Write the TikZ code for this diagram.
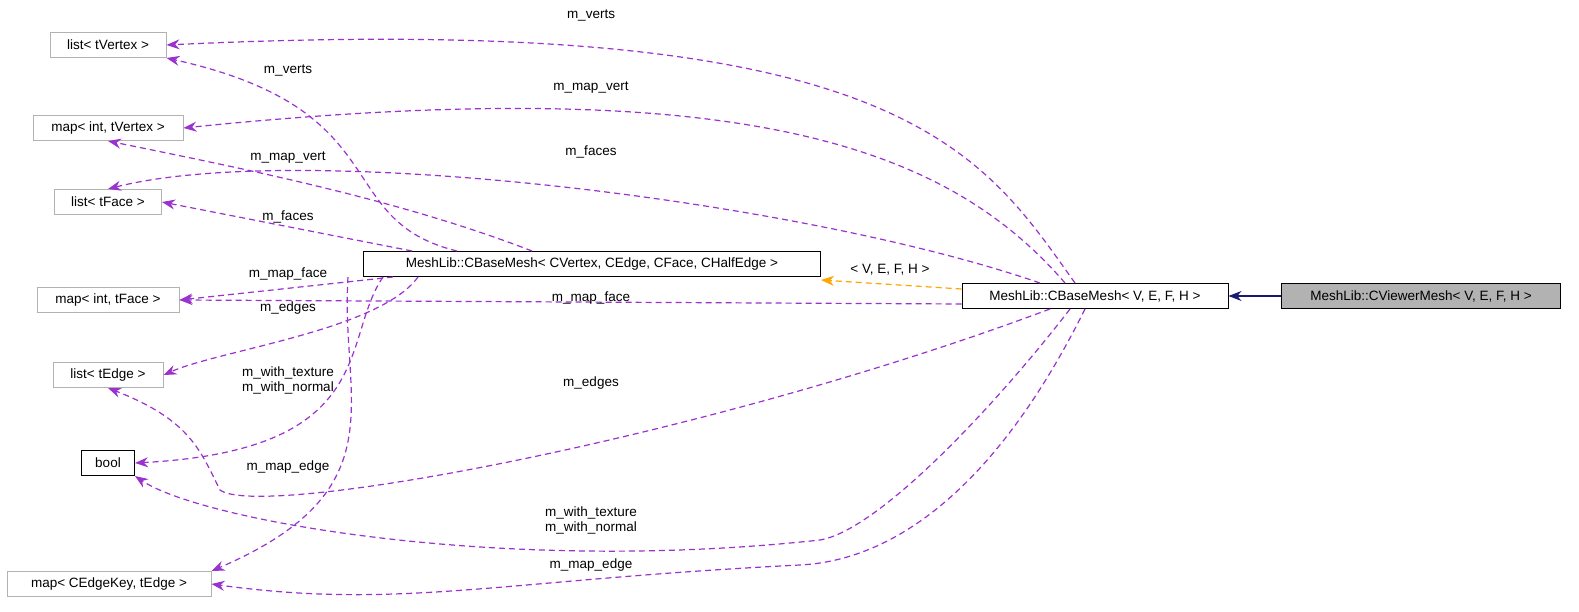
\documentclass[tikz,border=0pt]{standalone}
\usepackage{fontspec}
\setmainfont{Liberation Sans}
\usepackage{tikz}
\usetikzlibrary{arrows.meta}
\definecolor{edgepurple}{HTML}{9A32CD}
\definecolor{tmplorange}{HTML}{FFA500}
\definecolor{inhnavy}{HTML}{191970}
\tikzstyle{cls} = [rectangle, draw=black, fill=white, inner sep=0pt, minimum height=25pt, line width=1pt, font=\fontsize{13.5}{15}\selectfont]
\tikzstyle{extcls} = [cls, draw=gray!60]
\tikzstyle{usage} = [draw=edgepurple, dash pattern=on 6pt off 4pt, line width=1.2pt, -{Stealth[length=13pt,width=10pt]}]
\tikzstyle{tmpl} = [draw=tmplorange, dash pattern=on 6pt off 4pt, line width=1.2pt, -{Stealth[length=13pt,width=10pt]}]
\tikzstyle{inherit} = [draw=inhnavy, line width=1.2pt, -{Stealth[length=13pt,width=10pt]}]
\tikzstyle{lbl} = [font=\fontsize{13.5}{15}\selectfont, align=center, inner sep=1pt]
\begin{document}
\begin{tikzpicture}[x=1pt, y=-1pt]
			\useasboundingbox (0,0) rectangle (1579,612);
			% classes
			\node [extcls, minimum width=116pt] (listVert) at (108,45) {list< tVertex >};
			\node [extcls, minimum width=150pt] (mapVert) at (108,128) {map< int, tVertex >};
			\node [extcls, minimum width=107pt] (listFace) at (108,202) {list< tFace >};
			\node [extcls, minimum width=142pt] (mapFace) at (108,300) {map< int, tFace >};
			\node [extcls, minimum width=110pt] (listEdge) at (108,375) {list< tEdge >};
			\node [cls, minimum width=53pt] (bool) at (108,463) {bool};
			\node [extcls, minimum width=204pt] (mapEdge) at (109,584) {map< CEdgeKey, tEdge >};
			\node [cls, minimum width=457pt] (baseC) at (592,264) {MeshLib::CBaseMesh< CVertex, CEdge, CFace, CHalfEdge >};
			\node [cls, minimum width=266pt] (baseT) at (1095,296) {MeshLib::CBaseMesh< V, E, F, H >};
			\node [cls, minimum width=279pt, fill=gray!60] (viewer) at (1421,296) {MeshLib::CViewerMesh< V, E, F, H >};

			% inheritance
			\path [inherit] (viewer) -- (baseT);
			\path [tmpl] (baseT.north west) ++(0,6) coordinate (tA) (tA) -- (baseC.south east |- 0,280);
			\node [lbl] at (890,270) {< V, E, F, H >};

			% members of CBaseMesh< V, E, F, H >
			\path [usage] (baseT.north) ++(-20,0) .. controls (980,150) and (900,10) .. (listVert.east);
			\node [lbl] at (591,15) {m\_verts};
			\path [usage] (baseT.north) ++(-30,0) .. controls (950,150) and (750,70) .. (mapVert.east);
			\node [lbl] at (591,88) {m\_map\_vert};
			\path [usage] (baseT.north) ++(-55,0) .. controls (800,200) and (300,140) .. (listFace.north);
			\node [lbl] at (591,152) {m\_faces};
			\path [usage] (baseT.west) ++(0,8) -- (mapFace.east);
			\node [lbl] at (591,298) {m\_map\_face};
			\path [usage] (baseT.south) ++(-45,0) .. controls (700,440) and (260,520) .. (220,490) .. controls (200,450) and (190,420) .. (listEdge.south);
			\node [lbl] at (591,383) {m\_edges};
			\path [usage] (baseT.south) ++(-25,0) .. controls (1000,400) and (880,530) .. (820,540) .. controls (500,575) and (200,520) .. (bool.south east);
			\node [lbl] at (591,520) {m\_with\_texture\\m\_with\_normal};
			\path [usage] (baseT.south) ++(-10,0) .. controls (1000,480) and (900,560) .. (800,565) .. controls (500,580) and (400,610) .. (mapEdge.east);
			\node [lbl] at (591,565) {m\_map\_edge};

			% members of CBaseMesh< CVertex, CEdge, CFace, CHalfEdge >
			\path [usage] (baseC.north) ++(-135,0) .. controls (330,220) and (400,110) .. (listVert.south east);
			\node [lbl] at (288,70) {m\_verts};
			\path [usage] (baseC.north) ++(-60,0) .. controls (400,200) and (250,170) .. (mapVert.south);
			\node [lbl] at (288,158) {m\_map\_vert};
			\path [usage] (baseC.north) ++(-180,0) -- (listFace.east);
			\node [lbl] at (288,217) {m\_faces};
			\path [usage] (baseC.south west) ++(30,0) -- (mapFace.east);
			\node [lbl] at (288,274) {m\_map\_face};
			\path [usage] (baseC.south west) ++(55,0) .. controls (380,330) and (220,350) .. (listEdge.east);
			\node [lbl] at (288,308) {m\_edges};
			\path [usage] (baseC.south west) ++(20,0) .. controls (340,340) and (380,450) .. (bool.east);
			\node [lbl] at (288,380) {m\_with\_texture\\m\_with\_normal};
			\path [usage] (baseC.south west) ++(-15,0) .. controls (340,400) and (400,490) .. (mapEdge.north east);
			\node [lbl] at (288,467) {m\_map\_edge};
	\end{tikzpicture}
\end{document}
